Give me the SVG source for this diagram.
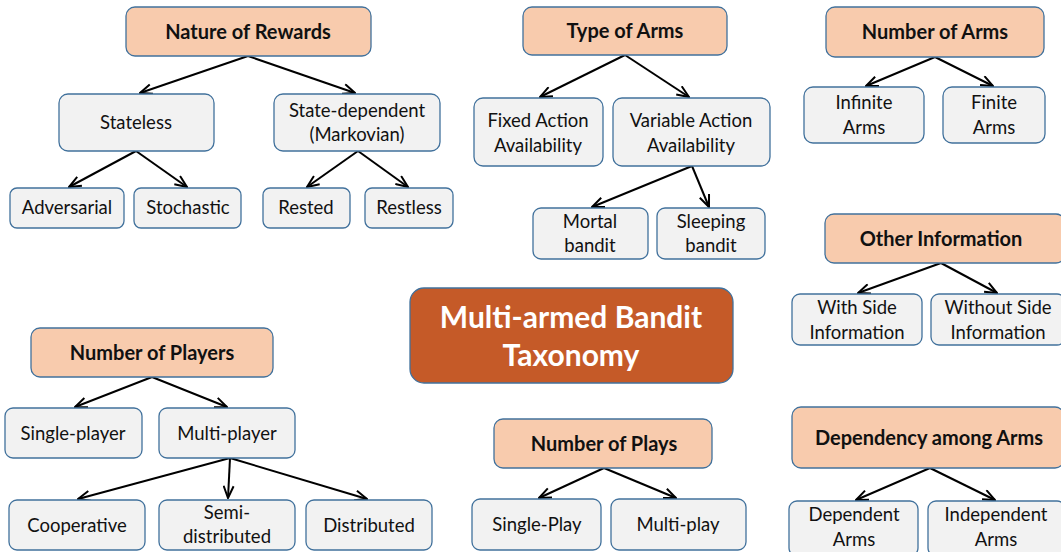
<svg xmlns="http://www.w3.org/2000/svg" width="1061" height="552" viewBox="0 0 1061 552">
  <style>
    .cat rect { fill: #F8CBAD; stroke: #41719C; stroke-width: 1.3; }
    .leaf rect { fill: #F2F2F2; stroke: #41719C; stroke-width: 1.3; }
    .root rect { fill: #C55A28; stroke: #41719C; stroke-width: 1.3; }
    text { font-family: Lato, "Liberation Sans", sans-serif; text-anchor: middle; fill: #111; }
    .cat text { font-size: 20px; font-weight: bold; }
    .leaf text { font-size: 18.5px; }
    .root text { font-size: 30px; font-weight: bold; fill: #FFFFFF; }
    .links line { stroke: #000; stroke-width: 2; marker-end: url(#arrow); }
  </style>
  <defs>
    <marker id="arrow" markerUnits="userSpaceOnUse" markerWidth="14" markerHeight="12" viewBox="0 0 14 12" refX="13" refY="6" orient="auto">
      <path d="M1,1 L13,6 L1,11" fill="none" stroke="#000" stroke-width="2"/>
    </marker>
  </defs>
  <rect width="1061" height="552" fill="#FFFFFF"/>

  <g class="links">
    <!-- Nature of Rewards -->
    <line x1="248" y1="56" x2="140" y2="93"/>
    <line x1="248" y1="56" x2="355" y2="93"/>
    <line x1="136" y1="151" x2="69" y2="187"/>
    <line x1="136" y1="151" x2="187" y2="187"/>
    <line x1="358" y1="151" x2="307" y2="187"/>
    <line x1="358" y1="151" x2="408" y2="187"/>
    <!-- Type of Arms -->
    <line x1="625" y1="55" x2="540" y2="97"/>
    <line x1="625" y1="55" x2="689" y2="97"/>
    <line x1="692" y1="166" x2="592" y2="207"/>
    <line x1="692" y1="166" x2="709" y2="207"/>
    <!-- Number of Arms -->
    <line x1="935" y1="57" x2="866" y2="86"/>
    <line x1="935" y1="57" x2="993" y2="86"/>
    <!-- Other Information -->
    <line x1="941" y1="263" x2="858" y2="293"/>
    <line x1="941" y1="263" x2="997" y2="293"/>
    <!-- Number of Plays -->
    <line x1="604" y1="468" x2="539" y2="498"/>
    <line x1="604" y1="468" x2="676" y2="498"/>
    <!-- Dependency among Arms -->
    <line x1="930" y1="468" x2="856" y2="500"/>
    <line x1="930" y1="468" x2="995" y2="500"/>
    <!-- Number of Players -->
    <line x1="152" y1="377" x2="75" y2="407"/>
    <line x1="152" y1="377" x2="227" y2="407"/>
    <line x1="230" y1="458" x2="78" y2="499"/>
    <line x1="230" y1="458" x2="228" y2="498"/>
    <line x1="230" y1="458" x2="367" y2="499"/>
  </g>

  <g id="nature-of-rewards" class="cat"><rect x="126" y="7" width="245" height="49" rx="9"/><text x="248" y="39">Nature of Rewards</text></g>
  <g id="stateless" class="leaf"><rect x="59" y="94" width="155" height="57" rx="9"/><text x="136" y="129">Stateless</text></g>
  <g id="state-dependent" class="leaf"><rect x="274" y="94" width="166" height="57" rx="9"/><text x="357" y="117">State-dependent</text><text x="357" y="141">(Markovian)</text></g>
  <g id="adversarial" class="leaf"><rect x="10" y="188" width="114" height="40" rx="7"/><text x="67" y="214">Adversarial</text></g>
  <g id="stochastic" class="leaf"><rect x="134" y="188" width="107" height="40" rx="7"/><text x="188" y="214">Stochastic</text></g>
  <g id="rested" class="leaf"><rect x="263" y="188" width="87" height="40" rx="7"/><text x="306" y="214">Rested</text></g>
  <g id="restless" class="leaf"><rect x="365" y="188" width="88" height="40" rx="7"/><text x="409" y="214">Restless</text></g>

  <g id="type-of-arms" class="cat"><rect x="523" y="7" width="204" height="48" rx="9"/><text x="625" y="38">Type of Arms</text></g>
  <g id="fixed-action" class="leaf"><rect x="474" y="98" width="129" height="68" rx="9"/><text x="538" y="127">Fixed Action</text><text x="538" y="152">Availability</text></g>
  <g id="variable-action" class="leaf"><rect x="613" y="98" width="157" height="68" rx="9"/><text x="691" y="127">Variable Action</text><text x="691" y="152">Availability</text></g>
  <g id="mortal-bandit" class="leaf"><rect x="533" y="208" width="115" height="51" rx="8"/><text x="590" y="228">Mortal</text><text x="590" y="252">bandit</text></g>
  <g id="sleeping-bandit" class="leaf"><rect x="657" y="208" width="108" height="51" rx="8"/><text x="711" y="228">Sleeping</text><text x="711" y="252">bandit</text></g>

  <g id="number-of-arms" class="cat"><rect x="826" y="7" width="218" height="50" rx="9"/><text x="935" y="39">Number of Arms</text></g>
  <g id="infinite-arms" class="leaf"><rect x="804" y="87" width="120" height="56" rx="9"/><text x="864" y="109">Infinite</text><text x="864" y="134">Arms</text></g>
  <g id="finite-arms" class="leaf"><rect x="943" y="87" width="102" height="56" rx="9"/><text x="994" y="109">Finite</text><text x="994" y="134">Arms</text></g>

  <g id="other-information" class="cat"><rect x="825" y="214" width="240" height="49" rx="9"/><text x="941" y="246">Other Information</text></g>
  <g id="with-side" class="leaf"><rect x="792" y="294" width="130" height="51" rx="8"/><text x="857" y="314">With Side</text><text x="857" y="339">Information</text></g>
  <g id="without-side" class="leaf"><rect x="931" y="294" width="134" height="51" rx="8"/><text x="998" y="314">Without Side</text><text x="998" y="339">Information</text></g>

  <g id="taxonomy" class="root"><rect x="410" y="288" width="323" height="95" rx="14"/><text x="571" y="328">Multi-armed Bandit</text><text x="571" y="366">Taxonomy</text></g>

  <g id="number-of-plays" class="cat"><rect x="494" y="419" width="218" height="49" rx="9"/><text x="604" y="451">Number of Plays</text></g>
  <g id="single-play" class="leaf"><rect x="472" y="499" width="129" height="51" rx="8"/><text x="537" y="531">Single-Play</text></g>
  <g id="multi-play" class="leaf"><rect x="611" y="499" width="135" height="51" rx="8"/><text x="678" y="531">Multi-play</text></g>

  <g id="dependency-among-arms" class="cat"><rect x="792" y="407" width="272" height="61" rx="9"/><text x="929" y="445">Dependency among Arms</text></g>
  <g id="dependent-arms" class="leaf"><rect x="789" y="501" width="129" height="55" rx="8"/><text x="854" y="521">Dependent</text><text x="854" y="546">Arms</text></g>
  <g id="independent-arms" class="leaf"><rect x="928" y="501" width="137" height="55" rx="8"/><text x="996" y="521">Independent</text><text x="996" y="546">Arms</text></g>

  <g id="number-of-players" class="cat"><rect x="31" y="328" width="242" height="49" rx="9"/><text x="152" y="360">Number of Players</text></g>
  <g id="single-player" class="leaf"><rect x="5" y="408" width="137" height="50" rx="8"/><text x="73" y="440">Single-player</text></g>
  <g id="multi-player" class="leaf"><rect x="159" y="408" width="136" height="50" rx="8"/><text x="227" y="440">Multi-player</text></g>
  <g id="cooperative" class="leaf"><rect x="9" y="500" width="136" height="50" rx="8"/><text x="77" y="532">Cooperative</text></g>
  <g id="semi-distributed" class="leaf"><rect x="159" y="500" width="136" height="50" rx="8"/><text x="227" y="519">Semi-</text><text x="227" y="543">distributed</text></g>
  <g id="distributed" class="leaf"><rect x="306" y="500" width="126" height="50" rx="8"/><text x="369" y="532">Distributed</text></g>
</svg>
